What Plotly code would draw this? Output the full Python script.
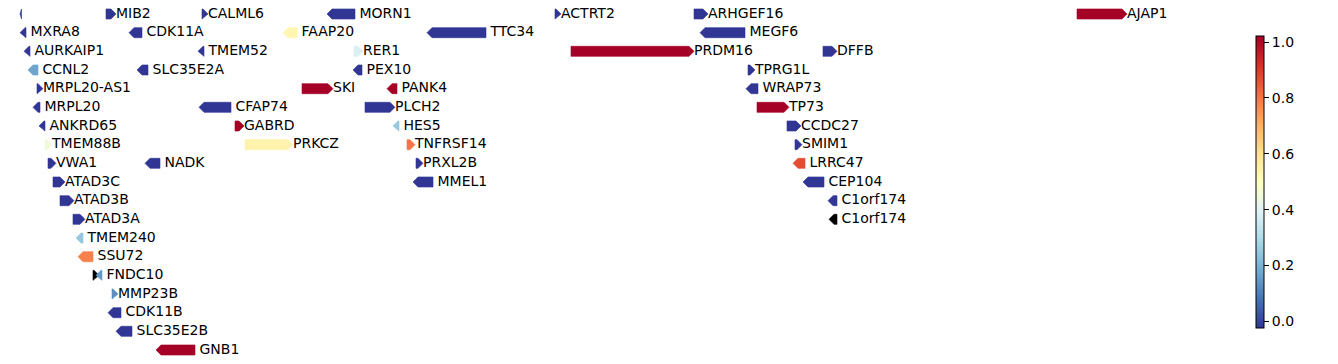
import plotly.graph_objects as go
from plotly.colors import sample_colorscale

# ---- data (x in track units, row = stacking level) ----
names = ["", "MIB2", "CALML6", "MORN1", "ACTRT2", "ARHGEF16", "AJAP1",
         "MXRA8", "CDK11A", "FAAP20", "TTC34", "MEGF6",
         "AURKAIP1", "TMEM52", "RER1", "PRDM16", "DFFB",
         "CCNL2", "SLC35E2A", "PEX10", "TPRG1L",
         "MRPL20-AS1", "SKI", "PANK4", "WRAP73",
         "MRPL20", "CFAP74", "PLCH2", "TP73",
         "ANKRD65", "GABRD", "HES5", "CCDC27",
         "TMEM88B", "PRKCZ", "TNFRSF14", "SMIM1",
         "VWA1", "NADK", "PRXL2B", "LRRC47",
         "ATAD3C", "MMEL1", "CEP104",
         "ATAD3B", "C1orf174",
         "ATAD3A", "C1orf174",
         "TMEM240", "SSU72", "", "FNDC10", "MMP23B", "CDK11B", "SLC35E2B", "GNB1"]
starts = [20, 106, 202, 327, 555, 694, 1077,
          20, 129, 283, 427, 700,
          24, 198, 354, 571, 823,
          28, 137, 353, 748,
          37, 302, 387, 746,
          33, 199, 365, 757,
          39, 235, 393, 787,
          45, 245, 407, 795,
          48, 145, 416, 793,
          53, 413, 803,
          60, 828,
          73, 829,
          76, 78, 93, 96, 112, 108, 116, 156]
ends = [21.5, 116, 208, 355, 561, 708, 1127,
        26, 142, 297, 486, 745,
        30, 204, 363, 694, 837,
        38, 148, 362, 755,
        43, 333, 397, 758,
        40, 231, 395, 789,
        45, 244, 399, 801,
        52, 293, 415, 802,
        56, 160, 423, 805,
        65, 433, 824,
        74, 837,
        85, 837,
        83, 93, 99, 102, 118, 121, 132, 195]
strands = ["-", "+", "+", "-", "+", "+", "+",
           "-", "-", "-", "-", "-",
           "-", "-", "+", "+", "+",
           "-", "-", "-", "+",
           "+", "+", "-", "-",
           "-", "-", "+", "+",
           "-", "+", "-", "+",
           "+", "+", "+", "+",
           "+", "-", "+", "-",
           "+", "-", "-",
           "+", "-",
           "+", "-",
           "-", "-", "+", "-", "+", "-", "-", "-"]
rows = [0, 0, 0, 0, 0, 0, 0,
        1, 1, 1, 1, 1,
        2, 2, 2, 2, 2,
        3, 3, 3, 3,
        4, 4, 4, 4,
        5, 5, 5, 5,
        6, 6, 6, 6,
        7, 7, 7, 7,
        8, 8, 8, 8,
        9, 9, 9,
        10, 10,
        11, 11,
        12, 13, 14, 14, 15, 16, 17, 18]
# None = missing score (drawn black)
scores = [-0.03, -0.03, -0.03, -0.03, -0.03, -0.03, 1.03,
          -0.03, -0.03, 0.53, -0.03, -0.03,
          -0.03, -0.03, 0.38, 1.03, -0.03,
          0.17, -0.03, -0.03, -0.03,
          -0.03, 1.03, 1.03, -0.03,
          -0.03, -0.03, -0.03, 1.03,
          -0.03, 1.03, 0.25, -0.03,
          0.45, 0.54, 0.8, -0.03,
          -0.03, -0.03, -0.03, 0.87,
          -0.03, -0.03, -0.03,
          -0.03, -0.03,
          -0.03, None,
          0.25, 0.78, None, 0.15, 0.13, -0.03, -0.03, 1.03]

cbar_ticks = [0.0, 0.2, 0.4, 0.6, 0.8, 1.0]
CMIN, CMAX = -0.024, 1.022

# ---- style ----
FONT = "DejaVu Sans"
HALF_H = 0.27      # half arrow height, row units
HEAD = 5.0         # arrow head length, track units
LABEL_GAP_MINUS = 4.5
LABEL_GAP_PLUS = 0.0

def color_of(v):
    if v is None:
        return "#000000"
    t = (v - CMIN) / (CMAX - CMIN)
    t = min(max(t, 0.0), 1.0)
    return sample_colorscale("RdYlBu_r", [t])[0]

fig = go.Figure()
for n, s, e, st, r, v in zip(names, starts, ends, strands, rows, scores):
    L = e - s
    hd = min(HEAD, L)
    if st == "+":
        xs = [s, e - hd, e, e - hd, s, s]
    else:
        xs = [e, s + hd, s, s + hd, e, e]
    ys = [r - HALF_H, r - HALF_H, r, r + HALF_H, r + HALF_H, r - HALF_H]
    c = color_of(v)
    fig.add_trace(go.Scatter(x=xs, y=ys, mode="lines", fill="toself",
                             fillcolor=c, line=dict(width=0.6, color=c),
                             hoverinfo="skip", showlegend=False))

lab_x = [e + (LABEL_GAP_PLUS if st == "+" else LABEL_GAP_MINUS)
         for e, st in zip(ends, strands)]
fig.add_trace(go.Scatter(x=lab_x, y=rows, mode="text", text=names,
                         textposition="middle right",
                         textfont=dict(family=FONT, size=14, color="black"),
                         cliponaxis=False, showlegend=False, hoverinfo="skip"))

# colorbar carrier
fig.add_trace(go.Scatter(
    x=[None], y=[None], mode="markers", showlegend=False, hoverinfo="skip",
    marker=dict(color=[CMIN, CMAX], colorscale="RdYlBu_r", cmin=CMIN, cmax=CMAX,
                showscale=True,
                colorbar=dict(x=1256 / 1338, xanchor="left", xpad=0, ypad=0,
                              y=0.5, yanchor="middle", lenmode="pixels", len=292,
                              thickness=8, outlinewidth=1, outlinecolor="black",
                              tickmode="array", tickvals=cbar_ticks,
                              ticktext=[f"{t:.1f}" for t in cbar_ticks],
                              ticks="outside", ticklen=5, tickcolor="black",
                              tickfont=dict(family=FONT, size=14, color="black"))),
))

W, H = 1338, 364
ROW0, DY = 14.0, 336.0 / 18
fig.update_layout(
    width=W, height=H, margin=dict(l=0, r=0, t=0, b=0),
    paper_bgcolor="white", plot_bgcolor="white",
    xaxis=dict(range=[0, W], visible=False, fixedrange=True),
    yaxis=dict(range=[(H - ROW0) / DY, -ROW0 / DY], visible=False, fixedrange=True),
    font=dict(family=FONT, size=14, color="black"),
)
fig.write_html("out.html")
